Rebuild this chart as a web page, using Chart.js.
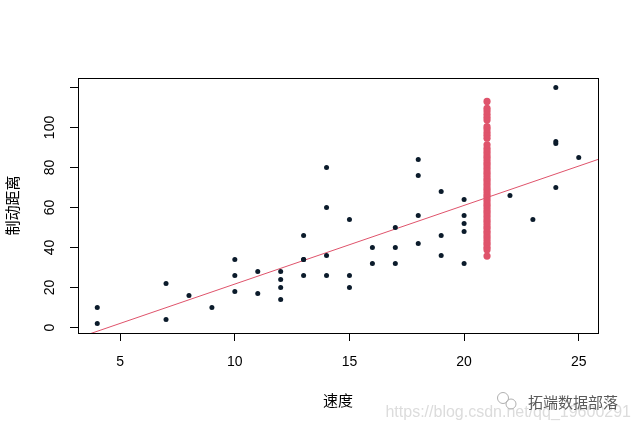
<!DOCTYPE html>
<html>
<head>
<meta charset="utf-8">
<script src="https://cdn.jsdelivr.net/npm/chart.js@4"></script>
<style>
  html, body { margin: 0; padding: 0; background: #fff; }
  #c { display: block; }
</style>
</head>
<body>
<canvas id="c" width="639" height="431"></canvas>
<script>
// --- data (R "cars": speed vs stopping distance) ---
const speed = [4,4,7,7,8,9,10,10,10,11,11,12,12,12,12,13,13,13,13,14,14,14,14,15,15,15,16,16,17,17,17,18,18,18,18,19,19,19,20,20,20,20,20,22,23,24,24,24,24,25];
const dist  = [2,10,4,22,16,10,18,26,34,17,28,14,20,24,28,26,34,34,46,26,36,60,80,20,26,54,32,40,32,40,50,42,56,76,84,36,46,68,32,48,52,56,64,66,54,70,92,93,120,85];
// simulated distances at speed 21 (red column)
const predSpeed = 21;
const predDist = [35.7, 38.9, 40.1, 41.6, 42.8, 44.2, 45.5, 46.9, 48.1, 49.6, 50.8, 52.3, 53.5, 54.9, 56.2, 57.6, 58.8, 60.3, 61.5, 62.9, 64.2, 65.6, 66.8, 68.3, 69.5, 70.9, 72.2, 73.6, 74.8, 76.3, 77.5, 78.9, 80.2, 81.6, 82.8, 84.3, 85.5, 86.9, 88.2, 89.6, 91.3, 94.6, 96.1, 97.5, 99.2, 100.4, 103.7, 105.1, 106.6, 108.2, 109.6, 113.0];
// fitted regression line endpoints
const lineX = [3.16, 25.84];
const lineY = [-5.15, 84.02];
// axes
const xTicks = [5, 10, 15, 20, 25];
const yTicks = [0, 20, 40, 60, 80, 100, 120];
const yTickLabels = ['0', '20', '40', '60', '80', '100', ''];
const xRange = [3.16, 25.84];
const yRange = [-2.72, 124.72];
const xTitle = '速度';
const yTitle = '制动距离';
const brandText = '拓端数据部落';
const urlText = 'https://blog.csdn.net/qq_19600291';

const RED = '#DF536B';
const DARK = '#0b1b2b';
const TICK_FONT = '14px "Liberation Sans", Arial, sans-serif';

const boxPlugin = {
  id: 'boxAndLabels',
  afterDraw(chart) {
    const ctx = chart.ctx;
    const a = chart.chartArea;
    ctx.save();
    ctx.strokeStyle = '#000';
    ctx.lineWidth = 1;
    ctx.strokeRect(Math.round(a.left) + 0.5, Math.round(a.top) + 0.5,
                   Math.round(a.right - a.left), Math.round(a.bottom - a.top));
    // rotated y tick labels (R style)
    const ys = chart.scales.y;
    ctx.fillStyle = '#000';
    ctx.font = TICK_FONT;
    ctx.textAlign = 'center';
    ctx.textBaseline = 'middle';
    ys.ticks.forEach((t, i) => {
      const py = ys.getPixelForValue(t.value);
      ctx.save();
      ctx.translate(50, py);
      ctx.rotate(-Math.PI / 2);
      ctx.fillText(yTickLabels[i], 0, 0);
      ctx.restore();
    });
    // watermark
    ctx.font = '16px "Liberation Sans", Arial, sans-serif';
    ctx.fillStyle = '#dcdcdc';
    ctx.textAlign = 'right';
    ctx.fillText(urlText, 631, 413);
    ctx.strokeStyle = '#b0b0b0';
    ctx.lineWidth = 1;
    ctx.beginPath(); ctx.arc(503, 398, 5.5, 0, Math.PI * 2); ctx.stroke();
    ctx.beginPath(); ctx.arc(511, 404, 5, 0, Math.PI * 2); ctx.stroke();
    ctx.font = '15px "Noto Sans CJK SC", sans-serif';
    ctx.fillStyle = '#5a5a5a';
    ctx.textAlign = 'left';
    ctx.fillText(brandText, 528, 402);
    ctx.restore();
  }
};

new Chart(document.getElementById('c'), {
  type: 'scatter',
  data: {
    datasets: [
      {
        label: 'fit',
        type: 'line',
        data: lineX.map((x, i) => ({ x, y: lineY[i] })),
        borderColor: RED,
        borderWidth: 1,
        pointRadius: 0,
        fill: false,
        order: 3
      },
      {
        label: 'pred',
        data: predDist.map(y => ({ x: predSpeed, y })),
        backgroundColor: RED,
        borderWidth: 0,
        pointRadius: 3.6,
        order: 2
      },
      {
        label: 'cars',
        data: speed.map((x, i) => ({ x, y: dist[i] })),
        backgroundColor: DARK,
        borderWidth: 0,
        pointRadius: 2.5,
        order: 1
      }
    ]
  },
  options: {
    responsive: false,
    animation: false,
    devicePixelRatio: 1,
    layout: { padding: { left: 0, top: 78, right: 41, bottom: 0 } },
    plugins: { legend: { display: false }, tooltip: { enabled: false } },
    scales: {
      x: {
        type: 'linear',
        min: xRange[0], max: xRange[1],
        afterBuildTicks: s => { s.ticks = xTicks.map(v => ({ value: v })); },
        afterFit: s => { s.height = 98; },
        grid: { display: true, drawOnChartArea: false, drawTicks: true, tickLength: 8, color: '#000', lineWidth: 1 },
        border: { display: true, color: '#000', width: 1 },
        ticks: { color: '#000', font: { family: '"Liberation Sans", Arial, sans-serif', size: 14 }, padding: 13, maxRotation: 0, autoSkip: false },
        title: { display: true, text: xTitle, color: '#000', font: { family: '"Noto Sans CJK SC", sans-serif', size: 15 }, padding: { top: 0, bottom: 22 } }
      },
      y: {
        type: 'linear',
        min: yRange[0], max: yRange[1],
        afterBuildTicks: s => { s.ticks = yTicks.map(v => ({ value: v })); },
        afterFit: s => { s.width = 78; },
        grid: { display: true, drawOnChartArea: false, drawTicks: true, tickLength: 8, color: '#000', lineWidth: 1 },
        border: { display: true, color: '#000', width: 1 },
        ticks: { color: 'rgba(0,0,0,0)', font: { size: 14 }, autoSkip: false },
        title: { display: true, text: yTitle, color: '#000', font: { family: '"Noto Sans CJK SC", sans-serif', size: 15 }, padding: { top: 3, bottom: 0 } }
      }
    }
  },
  plugins: [boxPlugin]
});
</script>
</body>
</html>
